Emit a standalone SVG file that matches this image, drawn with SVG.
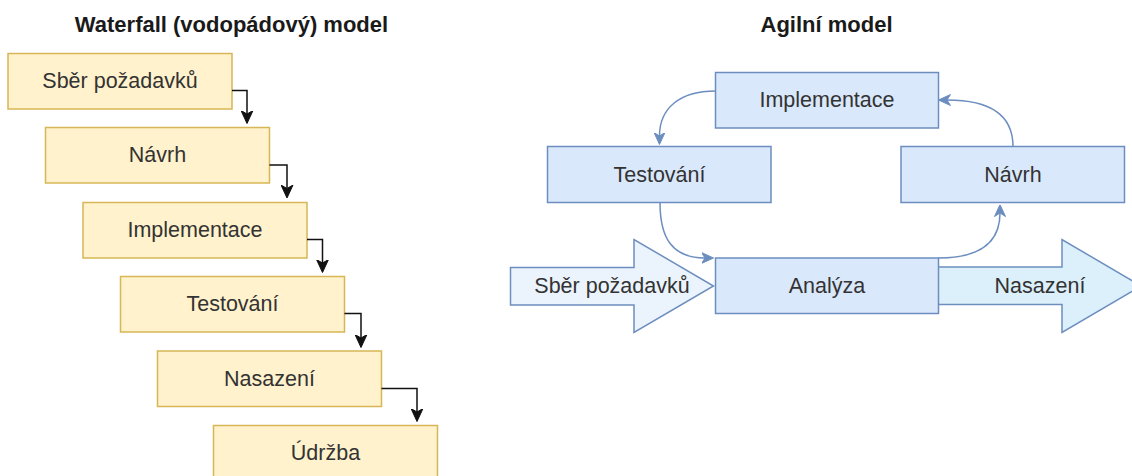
<svg xmlns="http://www.w3.org/2000/svg" width="1132" height="476" viewBox="0 0 1132 476">
  <style>
    .title { font-family: "Liberation Sans", Arial, sans-serif; font-size: 22px; font-weight: bold; fill: #1a1a1a; text-anchor: middle; }
    .label { font-family: "Liberation Sans", Arial, sans-serif; font-size: 21.5px; fill: #333333; text-anchor: middle; dominant-baseline: central; }
    .wf { fill: #fff2cc; stroke: #d6b656; stroke-width: 1.5; }
    .ag { fill: #dae8fc; stroke: #6c8ebf; stroke-width: 1.5; }
    .wf-link { fill: none; stroke: #111111; stroke-width: 1.5; }
    .ag-link { fill: none; stroke: #6c8ebf; stroke-width: 1.5; }
  </style>
  <defs>
    <marker id="arrow-black" viewBox="0 0 13 13" refX="3.5" refY="6.5" markerWidth="13" markerHeight="13" orient="auto" markerUnits="userSpaceOnUse">
      <path d="M0,0.5 L13,6.5 L0,12.5 L3.5,6.5 Z" fill="#111111" stroke="#111111" stroke-width="1" stroke-linejoin="miter"/>
    </marker>
    <marker id="arrow-blue" viewBox="0 0 12 12" refX="3.5" refY="6" markerWidth="12" markerHeight="12" orient="auto" markerUnits="userSpaceOnUse">
      <path d="M0,0.5 L12,6 L0,11.5 L3.5,6 Z" fill="#6c8ebf" stroke="#6c8ebf" stroke-width="1" stroke-linejoin="miter"/>
    </marker>
  </defs>

  <rect x="0" y="0" width="1132" height="476" fill="#ffffff"/>

  <!-- Titles -->
  <text id="title-waterfall" class="title" x="231.5" y="32">Waterfall (vodopádový) model</text>
  <text id="title-agile" class="title" x="826.5" y="32">Agilní model</text>

  <!-- Waterfall stages -->
  <g id="wf-sber">
    <rect class="wf" x="8" y="53.5" width="224" height="55.5"/>
    <text class="label" x="120" y="81">Sběr požadavků</text>
  </g>
  <g id="wf-navrh">
    <rect class="wf" x="45.5" y="127.5" width="224" height="55.5"/>
    <text class="label" x="157.5" y="155">Návrh</text>
  </g>
  <g id="wf-implementace">
    <rect class="wf" x="83" y="202.5" width="224" height="55.5"/>
    <text class="label" x="195" y="230">Implementace</text>
  </g>
  <g id="wf-testovani">
    <rect class="wf" x="120.5" y="276.5" width="224" height="55.5"/>
    <text class="label" x="232.5" y="304">Testování</text>
  </g>
  <g id="wf-nasazeni">
    <rect class="wf" x="157.5" y="351" width="224" height="55.5"/>
    <text class="label" x="269.5" y="379">Nasazení</text>
  </g>
  <g id="wf-udrzba">
    <rect class="wf" x="213.5" y="425.5" width="224" height="56"/>
    <text class="label" x="325.5" y="453">Údržba</text>
  </g>

  <!-- Agile blocks: flow arrows behind the boxes -->
  <g id="ag-sber">
    <polygon fill="#ebf3fd" stroke="#6c8ebf" stroke-width="1.5" points="510.5,267.5 634,267.5 634,239.5 713.5,286 634,332.5 634,305 510.5,305"/>
    <text class="label" x="612" y="286">Sběr požadavků</text>
  </g>
  <g id="ag-nasazeni">
    <polygon fill="#dcf0fb" stroke="#6c8ebf" stroke-width="1.5" points="936,267 1062,267 1062,239.5 1141,286 1062,332.5 1062,304.5 936,304.5"/>
    <text class="label" x="1040" y="286">Nasazení</text>
  </g>

  <g id="ag-implementace">
    <rect class="ag" x="715.5" y="72.5" width="223" height="55.5"/>
    <text class="label" x="827" y="100">Implementace</text>
  </g>
  <g id="ag-testovani">
    <rect class="ag" x="547.5" y="146.5" width="223.5" height="56"/>
    <text class="label" x="659.5" y="174.5">Testování</text>
  </g>
  <g id="ag-navrh">
    <rect class="ag" x="901" y="146.5" width="223.5" height="56"/>
    <text class="label" x="1013" y="174.5">Návrh</text>
  </g>
  <g id="ag-analyza">
    <rect class="ag" x="715.5" y="258" width="223" height="55.5"/>
    <text class="label" x="827" y="285.5">Analýza</text>
  </g>

  <!-- Connectors -->
  <g id="connectors">
    <!-- waterfall: right edge, across, then down to the next stage -->
    <path class="wf-link" d="M232,90.5 H247 V114" marker-end="url(#arrow-black)"/>
    <path class="wf-link" d="M269.5,165 H287 V188.5" marker-end="url(#arrow-black)"/>
    <path class="wf-link" d="M307,239.5 H322.5 V263" marker-end="url(#arrow-black)"/>
    <path class="wf-link" d="M344.5,313.5 H361 V338" marker-end="url(#arrow-black)"/>
    <path class="wf-link" d="M381.5,388.5 H417 V412" marker-end="url(#arrow-black)"/>

    <!-- agile cycle -->
    <path class="ag-link" d="M715.5,91 C680,91 659.5,108 659.5,136" marker-end="url(#arrow-blue)"/>
    <path class="ag-link" d="M1013,146.5 C1013,118 995,100 947,100" marker-end="url(#arrow-blue)"/>
    <path class="ag-link" d="M660,202.5 C660,238 672,258 705,258" marker-end="url(#arrow-blue)"/>
    <path class="ag-link" d="M938.5,258 C980,258 1000,242 1000,213" marker-end="url(#arrow-blue)"/>
  </g>
</svg>
